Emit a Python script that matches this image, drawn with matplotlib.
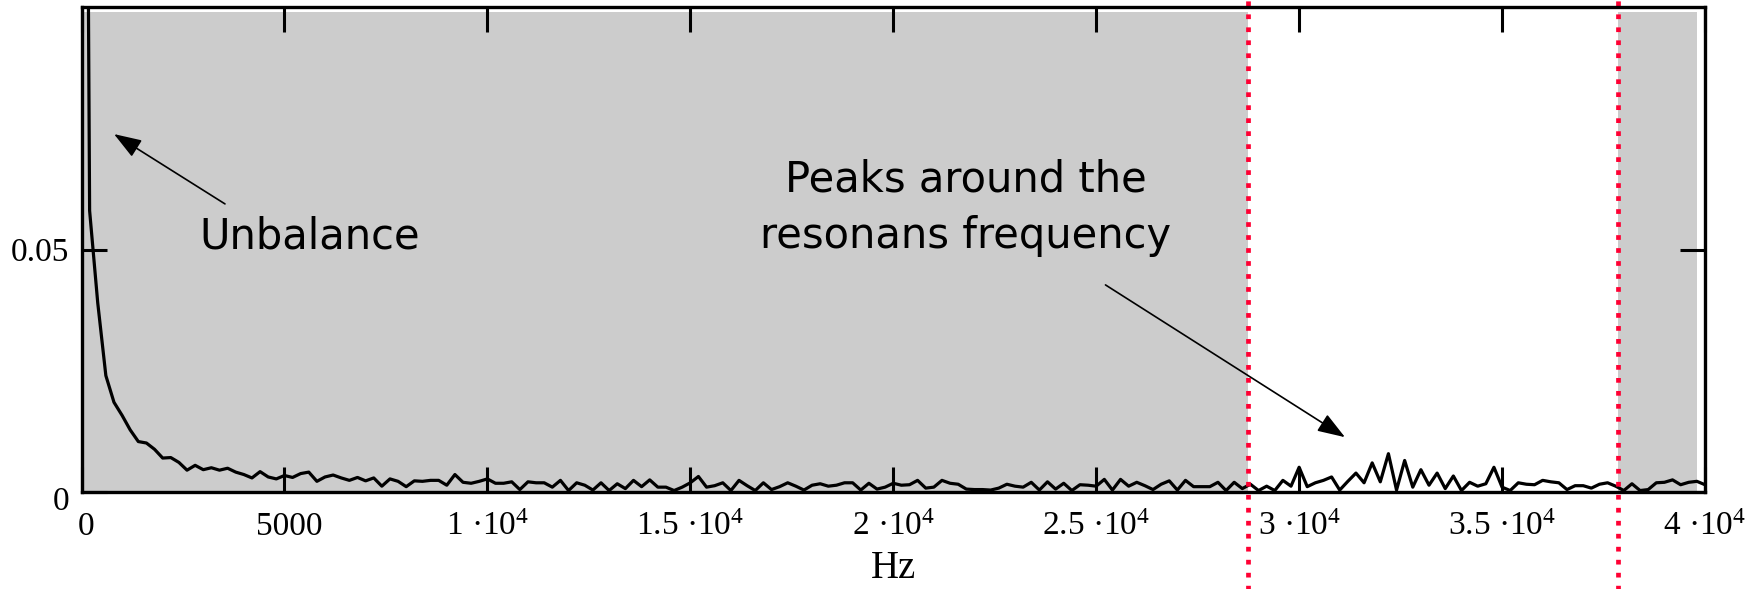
import numpy as np
import matplotlib
matplotlib.use("Agg")
import matplotlib.pyplot as plt
from matplotlib.transforms import ScaledTranslation

# ---------------- data ----------------
freq_step = 200  # Hz between samples
amplitude = [
    0.350, 0.058, 0.039, 0.024, 0.0185, 0.0158, 0.0128, 0.0104, 0.0101, 0.0088,
    0.0070, 0.0071, 0.0061, 0.0045, 0.0055, 0.0046, 0.0050, 0.0045, 0.0049, 0.0041,
    0.0036, 0.0029, 0.0042, 0.0031, 0.0027, 0.0034, 0.0030, 0.0038, 0.0041, 0.0022,
    0.0031, 0.0035, 0.0029, 0.0024, 0.0030, 0.0023, 0.0029, 0.0012, 0.0027, 0.0022,
    0.0011, 0.0023, 0.0022, 0.0024, 0.0024, 0.0014, 0.0036, 0.0020, 0.0018, 0.0022,
    0.0027, 0.0018, 0.0018, 0.0021, 0.0005, 0.0021, 0.0019, 0.0019, 0.0010, 0.0024,
    0.0003, 0.0019, 0.0014, 0.0004, 0.0019, 0.0003, 0.0017, 0.0007, 0.0024, 0.0011,
    0.0025, 0.0010, 0.0010, 0.0003, 0.0010, 0.0019, 0.0032, 0.0010, 0.0013, 0.0019,
    0.0003, 0.0024, 0.0013, 0.0003, 0.0019, 0.0005, 0.0011, 0.0019, 0.0012, 0.0004,
    0.0014, 0.0017, 0.0012, 0.0014, 0.0019, 0.0019, 0.0004, 0.0018, 0.0006, 0.0010,
    0.0018, 0.0014, 0.0015, 0.0024, 0.0008, 0.0010, 0.0024, 0.0018, 0.0016, 0.0006,
    0.0005, 0.0005, 0.0004, 0.0008, 0.0016, 0.0012, 0.0010, 0.0020, 0.0004, 0.0021,
    0.0006, 0.0018, 0.0003, 0.0015, 0.0014, 0.0012, 0.0026, 0.0004, 0.0026, 0.0012,
    0.0020, 0.0013, 0.0005, 0.0016, 0.0023, 0.0004, 0.0024, 0.0011, 0.0011, 0.0011,
    0.0020, 0.0003, 0.0020, 0.0007, 0.0016, 0.0003, 0.0012, 0.0003, 0.0024, 0.0012,
    0.0051, 0.0011, 0.0019, 0.0024, 0.0031, 0.0004, 0.0022, 0.0039, 0.0019, 0.0060,
    0.0021, 0.0079, 0.0004, 0.0065, 0.0010, 0.0046, 0.0014, 0.0039, 0.0007, 0.0033,
    0.0003, 0.0020, 0.0012, 0.0017, 0.0051, 0.0010, 0.0003, 0.0019, 0.0016, 0.0015,
    0.0024, 0.0021, 0.0019, 0.0005, 0.0013, 0.0013, 0.0008, 0.0016, 0.0019, 0.0012,
    0.0003, 0.0017, 0.0003, 0.0005, 0.0019, 0.0020, 0.0025, 0.0015, 0.0020, 0.0022,
    0.0015,
]
freq = np.arange(len(amplitude)) * freq_step

resonance_band = [28750, 37850]  # Hz, red dotted markers
x_ticks = [0, 5000, 10000, 15000, 20000, 25000, 30000, 35000, 40000]
x_tick_labels = ["0", "5000", "1 ·$10^{4}$", "1.5 ·$10^{4}$", "2 ·$10^{4}$",
                 "2.5 ·$10^{4}$", "3 ·$10^{4}$", "3.5 ·$10^{4}$", "4 ·$10^{4}$"]
y_ticks = [0, 0.05]
y_tick_labels = ["0", "0.05"]
x_label = "Hz"
note_unbalance = "Unbalance"
note_peaks = ["Peaks around the", "resonans frequency"]

# ---------------- style ----------------
plt.rcParams["mathtext.fontset"] = "custom"
plt.rcParams["mathtext.rm"] = "Liberation Serif"
plt.rcParams["mathtext.default"] = "rm"

W, H, DPI = 1751, 589, 100
fig = plt.figure(figsize=(W / DPI, H / DPI), dpi=DPI)
ax = fig.add_axes([81.5 / W, 1 - 492 / H, (1705 - 81.5) / W, (492 - 7) / H])

ax.set_xlim(0, 40000)
ax.set_ylim(0, 0.1)

gray = "#cccccc"
ax.axvspan(0, resonance_band[0], ymax=0.99, color=gray, lw=0, zorder=0)
ax.axvspan(resonance_band[1], 39800, ymax=0.99, color=gray, lw=0, zorder=0)

ax.plot(freq, amplitude, color="black", lw=2.3, zorder=3)

for xb in resonance_band:
    ax.axvline(xb, ymin=-0.21, ymax=1.02, color="#ff0033", lw=3.4,
               linestyle=(0, (1.0, 1.75)), clip_on=False, zorder=5)

for s in ax.spines.values():
    s.set_linewidth(2.4)
    s.set_color("black")
    s.set_zorder(6)

ax.set_xticks(x_ticks)
ax.set_xticklabels(x_tick_labels, family="Liberation Serif", fontsize=24)
ax.set_yticks(y_ticks)
ax.set_yticklabels(y_tick_labels, family="Liberation Serif", fontsize=24)
ax.tick_params(direction="in", top=True, right=True, length=18, width=2.2)
ax.tick_params(axis="x", pad=31)
ax.tick_params(axis="y", pad=9)
for t in ax.xaxis.get_major_ticks():
    t.label1.set_verticalalignment("baseline")
for lbl in ax.get_xticklabels()[:2]:
    lbl.set_transform(lbl.get_transform() + ScaledTranslation(5 / DPI, 0, fig.dpi_scale_trans))
for lbl in ax.get_yticklabels()[:1]:
    lbl.set_transform(lbl.get_transform() + ScaledTranslation(0, -6 / DPI, fig.dpi_scale_trans))

fig.text(893 / W, 1 - 569 / H, x_label, ha="center", va="center",
         family="Liberation Serif", fontsize=28)

arrow_kw = dict(arrowstyle="-|>,head_length=0.85,head_width=0.3", color="black",
                lw=1.2, mutation_scale=20, shrinkA=0, shrinkB=0)
ax.annotate("", xy=(801, 0.0738), xytext=(3535, 0.0594), arrowprops=arrow_kw, zorder=4)
ax.text(2895, 0.0503, note_unbalance, ha="left", va="baseline", fontsize=30,
        family="DejaVu Sans", zorder=4)

ax.annotate("", xy=(31130, 0.0113), xytext=(25229, 0.0427), arrowprops=arrow_kw, zorder=4)
ax.text(21792, (492 - 192) / 4850, note_peaks[0], ha="center", va="baseline",
        fontsize=30, family="DejaVu Sans", zorder=4)
ax.text(21792, (492 - 248) / 4850, note_peaks[1], ha="center", va="baseline",
        fontsize=30, family="DejaVu Sans", zorder=4)

fig.savefig("out.png", dpi=DPI)
